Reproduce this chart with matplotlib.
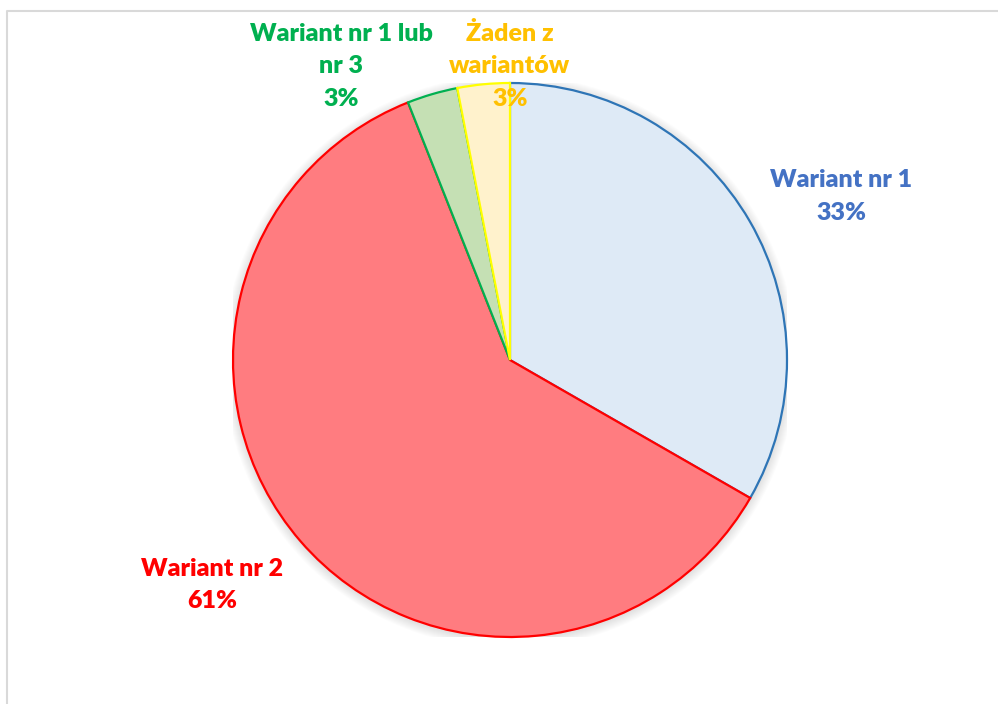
import matplotlib.pyplot as plt
from matplotlib.patches import Circle

# --- dane ---
labels = ["Wariant nr 1", "Wariant nr 2", "Wariant nr 1 lub\nnr 3", "Żaden z\nwariantów"]
shares = [33.3, 60.7, 2.95, 3.05]
pct_labels = ["33%", "61%", "3%", "3%"]

fill_colors = ["#DEEAF6", "#FF7C80", "#C5E0B4", "#FFF2CC"]
edge_colors = ["#2E75B6", "#FF0000", "#00B050", "#FFFF00"]
text_colors = ["#4472C4", "#FF0000", "#00B050", "#FFC000"]

# label positions (axes data coords, radius = 1)
label_pos = [(1.195, 0.59), (-1.075, -0.812), (-0.61, 1.06), (0.0, 1.062)]

W, H = 998, 704
fig = plt.figure(figsize=(W / 100, H / 100), dpi=100)
fig.patch.set_facecolor("white")

# ramka wykresu
frame = fig.add_axes([0, 0, 1, 1])
frame.set_xlim(0, W)
frame.set_ylim(H, 0)
frame.axis("off")
frame.plot([7.5, 7.5, W], [H, 10.5, 10.5], color="#D9D9D9", lw=1.5)

cx, cy, r = 510, 360, 277
ax = fig.add_axes([(cx - r) / W, (H - cy - r) / H, 2 * r / W, 2 * r / H])
ax.set_xlim(-1, 1)
ax.set_ylim(-1, 1)
ax.set_aspect("equal")
ax.axis("off")

# miekki cien
for k in range(10):
    ax.add_patch(Circle((0.0, -0.006), 1.0 + 0.0035 * (10 - k), color="black",
                        alpha=0.012, lw=0, zorder=0))

wedges, _ = ax.pie(shares, startangle=90, counterclock=False, radius=1,
                   colors=fill_colors,
                   wedgeprops=dict(linewidth=1.6))
for w, ec in zip(wedges, edge_colors):
    w.set_edgecolor(ec)
    w.set_zorder(2)
ax.set_xlim(-1, 1)
ax.set_ylim(-1, 1)

for lab, pct, col, (x, y) in zip(labels, pct_labels, text_colors, label_pos):
    ax.text(x, y, f"{lab}\n{pct}", ha="center", va="center", color=col,
            fontsize=18, fontweight="heavy", family="Lato",
            linespacing=1.6, clip_on=False, zorder=5)

fig.savefig("out.png", dpi=100)
